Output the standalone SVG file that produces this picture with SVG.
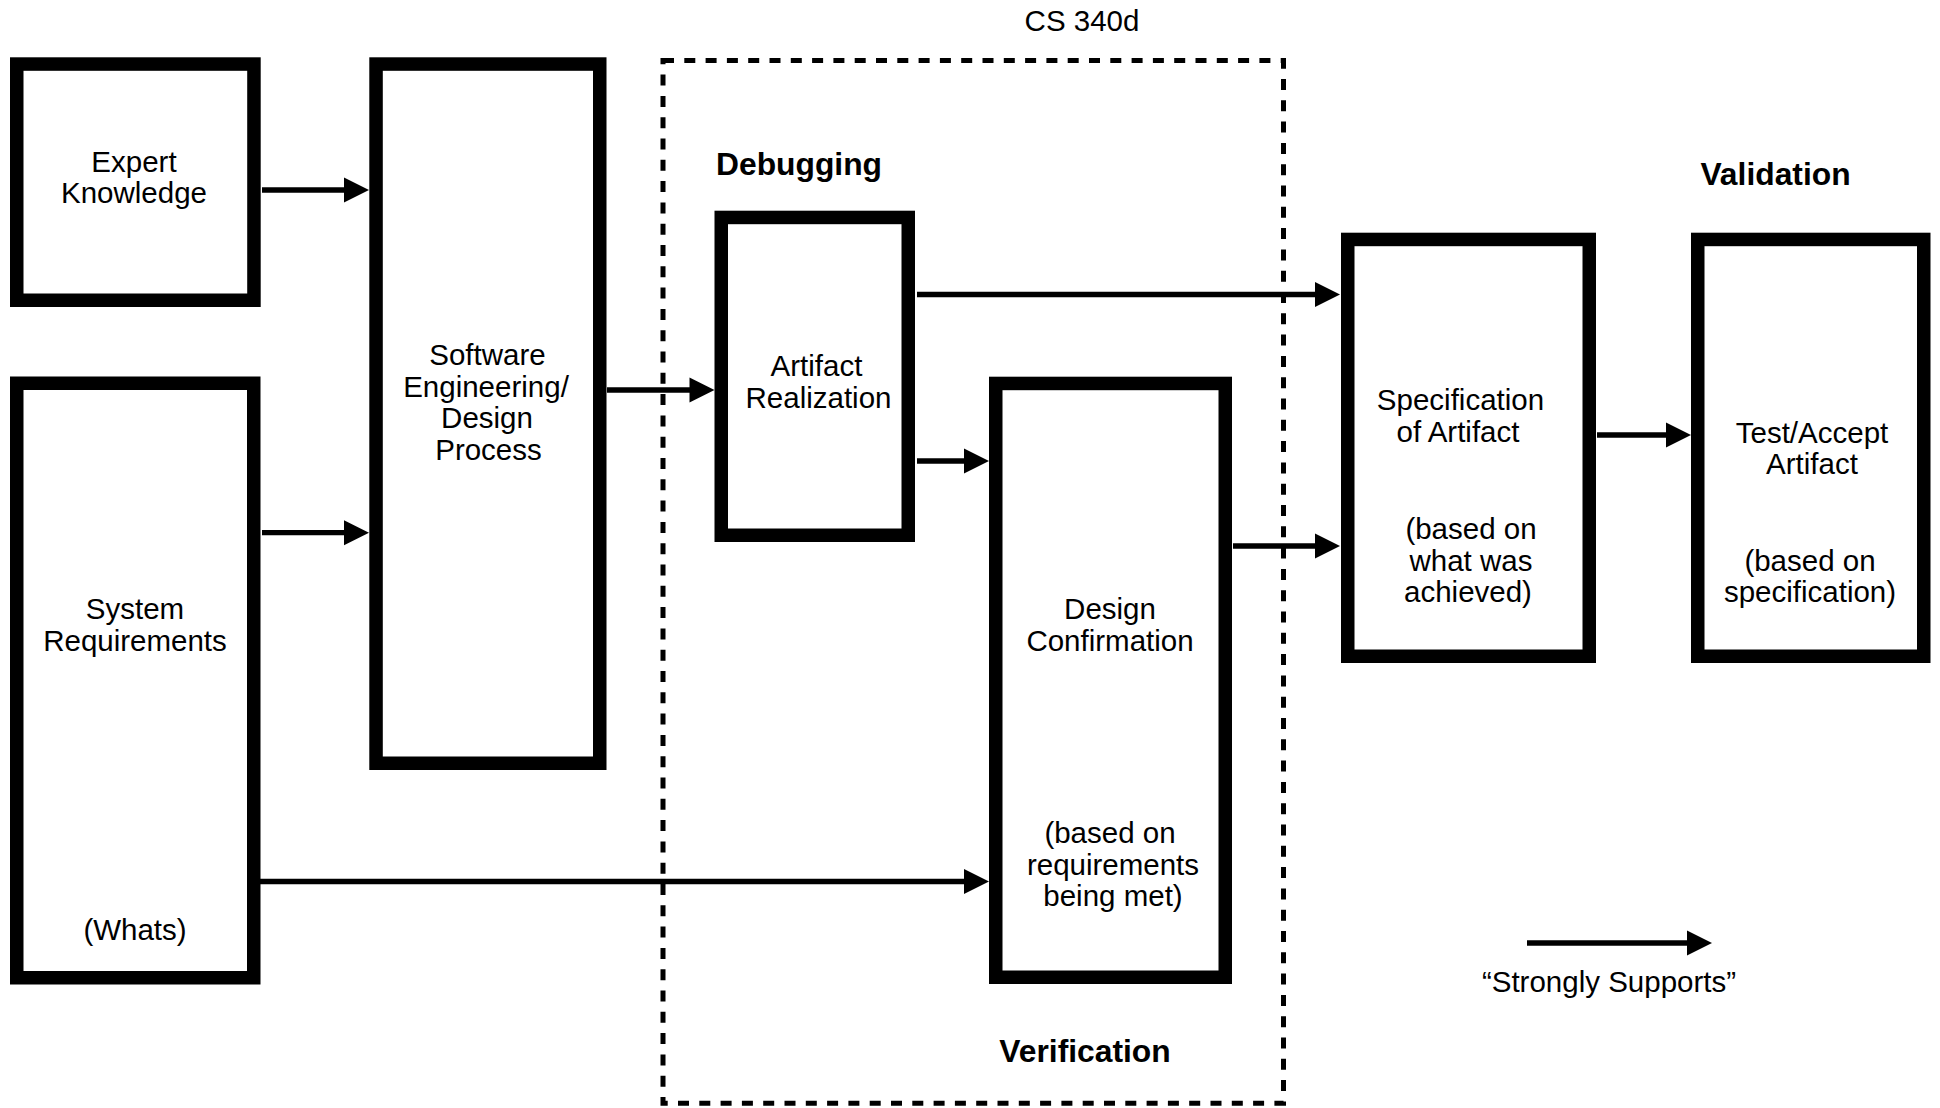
<svg xmlns="http://www.w3.org/2000/svg" width="1940" height="1108" viewBox="0 0 1940 1108">
<defs>
<style>
.box{fill:#fff;stroke:#000;stroke-width:13.5}
.t{font-family:"Liberation Sans",Arial,Helvetica,sans-serif;font-size:29.5px;fill:#000;text-anchor:middle}
.b{font-family:"Liberation Sans",Arial,Helvetica,sans-serif;font-size:31.8px;font-weight:bold;fill:#000}
.c{stroke:#000;stroke-width:5.3;fill:none;marker-end:url(#ah)}
.dash{fill:none;stroke:#000;stroke-width:5;stroke-dasharray:11 10.3}
</style>
<marker id="ah" markerUnits="userSpaceOnUse" markerWidth="26" markerHeight="26" refX="5" refY="12.5" orient="auto" overflow="visible">
<path d="M0,0 L25,12.5 L0,25 Z" fill="#000"/>
</marker>
</defs>
<rect width="1940" height="1108" fill="#fff"/>

<g id="frame">
<rect class="dash" x="663" y="60.5" width="620.5" height="1042.8"/>
<text class="t" x="1082" y="31">CS 340d</text>
<text class="b" x="716" y="175">Debugging</text>
<text class="b" x="1085" y="1062" text-anchor="middle">Verification</text>
<text class="b" x="1775.5" y="185" text-anchor="middle">Validation</text>
</g>

<g id="expert-knowledge">
<rect class="box" x="16.75" y="64.05" width="237.2" height="236.2"/>
<text class="t" x="134"><tspan x="134" y="171.7">Expert</tspan><tspan x="134" y="203.3">Knowledge</tspan></text>
</g>

<g id="software-engineering">
<rect class="box" x="376.05" y="64.05" width="223.7" height="699.2"/>
<text class="t"><tspan x="487.5" y="365">Software</tspan><tspan x="486" y="396.5">Engineering/</tspan><tspan x="487" y="428">Design</tspan><tspan x="488.5" y="459.5">Process</tspan></text>
</g>

<g id="system-requirements">
<rect class="box" x="16.75" y="383.25" width="237" height="594.5"/>
<text class="t"><tspan x="135" y="619">System</tspan><tspan x="135" y="651">Requirements</tspan><tspan x="135" y="940">(Whats)</tspan></text>
</g>

<g id="artifact-realization">
<rect class="box" x="721.25" y="217.45" width="187" height="317.8"/>
<text class="t"><tspan x="816.5" y="376">Artifact</tspan><tspan x="818.5" y="408">Realization</tspan></text>
</g>

<g id="design-confirmation">
<rect class="box" x="995.75" y="383.45" width="229.5" height="593.8"/>
<text class="t"><tspan x="1110" y="619">Design</tspan><tspan x="1110" y="651">Confirmation</tspan><tspan x="1110" y="843">(based on</tspan><tspan x="1113" y="875">requirements</tspan><tspan x="1113" y="906">being met)</tspan></text>
</g>

<g id="specification">
<rect class="box" x="1347.75" y="239.45" width="241.5" height="416.8"/>
<text class="t"><tspan x="1460.5" y="410">Specification</tspan><tspan x="1458" y="442">of Artifact</tspan><tspan x="1471" y="538.5">(based on</tspan><tspan x="1471" y="570.5">what was</tspan><tspan x="1468" y="602">achieved)</tspan></text>
</g>

<g id="test-accept">
<rect class="box" x="1697.75" y="239.45" width="226" height="416.8"/>
<text class="t"><tspan x="1812" y="442.5">Test/Accept</tspan><tspan x="1812" y="474">Artifact</tspan><tspan x="1810" y="570.7">(based on</tspan><tspan x="1810" y="602">specification)</tspan></text>
</g>

<g id="connectors">
<line class="c" x1="262" y1="190" x2="349" y2="190"/>
<line class="c" x1="262" y1="532.7" x2="349" y2="532.7"/>
<line class="c" x1="607" y1="390" x2="694.5" y2="390"/>
<line class="c" x1="917" y1="294.5" x2="1320" y2="294.5"/>
<line class="c" x1="917" y1="461" x2="969" y2="461"/>
<line class="c" x1="1233" y1="546" x2="1320" y2="546"/>
<line class="c" x1="260" y1="881.5" x2="969" y2="881.5"/>
<line class="c" x1="1597" y1="435" x2="1671" y2="435"/>
</g>

<g id="legend">
<line class="c" x1="1527" y1="943" x2="1692" y2="943"/>
<text class="t" x="1609" y="992">“Strongly Supports”</text>
</g>
</svg>
